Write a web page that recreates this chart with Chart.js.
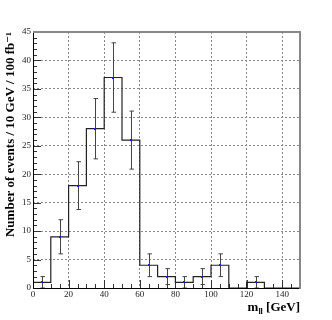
<!DOCTYPE html>
<html>
<head>
<meta charset="utf-8">
<script src="https://cdn.jsdelivr.net/npm/chart.js@4"></script>
<style>
  html, body { margin: 0; padding: 0; background: #fff; }
  #wrap { width: 332px; height: 320px; }
</style>
</head>
<body>
<div id="wrap"><canvas id="massChart" width="332" height="320"></canvas></div>
<script>
// bin edges (GeV) and contents per 10 GeV bin
const binEdges = [0, 10, 20, 30, 40, 50, 60, 70, 80, 90, 100, 110, 120, 130, 140, 150];
const binCounts = [1, 9, 18, 28, 37, 26, 4, 2, 1, 2, 4, 0, 1, 0, 0];
// error bars (bins with entries only)
const errCenters = [5, 15, 25, 35, 45, 55, 65, 75, 85, 95, 105, 125];
const errValues = [1, 9, 18, 28, 37, 26, 4, 2, 1, 2, 4, 1];
const errSizes = [1, 3, 4.2, 5.3, 6.1, 5.1, 2, 1.4, 1, 1.4, 2, 1];
const yTitle = "Number of events / 10 GeV / 100 fb⁻¹";

const serif = "'Liberation Serif', 'DejaVu Serif', serif";

// histogram outline: each bin gives its left and right edge at the same height
const stepPoints = [];
binCounts.forEach((n, i) => {
  stepPoints.push({ x: binEdges[i], y: n });
  stepPoints.push({ x: binEdges[i + 1], y: n });
});

const rootStyle = {
  id: "rootStyle",
  beforeDatasetsDraw(chart) {
    const { ctx, chartArea: a, scales: { x, y } } = chart;
    ctx.save();
    // inner ticks
    ctx.strokeStyle = "#333";
    ctx.lineWidth = 1;
    ctx.beginPath();
    for (let v = 0; v <= 45; v++) {
      const py = Math.round(y.getPixelForValue(v)) + 0.5;
      const len = v % 5 === 0 ? 8 : 4;
      ctx.moveTo(a.left, py);
      ctx.lineTo(a.left + len, py);
    }
    for (let v = 0; v <= 150; v += 5) {
      const px = Math.round(x.getPixelForValue(v)) + 0.5;
      const len = v % 20 === 0 ? 8 : 4;
      ctx.moveTo(px, a.bottom);
      ctx.lineTo(px, a.bottom - len);
    }
    ctx.stroke();
    ctx.restore();
  },
  afterDatasetsDraw(chart) {
    const { ctx, chartArea: a, scales: { x, y } } = chart;
    ctx.save();
    // error bars
    ctx.strokeStyle = "#444";
    ctx.lineWidth = 1;
    errCenters.forEach((c, i) => {
      const px = Math.round(x.getPixelForValue(c)) + 0.5;
      const top = y.getPixelForValue(errValues[i] + errSizes[i]);
      const bot = y.getPixelForValue(Math.max(0, errValues[i] - errSizes[i]));
      ctx.beginPath();
      ctx.moveTo(px, top); ctx.lineTo(px, bot);
      ctx.moveTo(px - 2, top); ctx.lineTo(px + 2.5, top);
      ctx.moveTo(px - 2, bot); ctx.lineTo(px + 2.5, bot);
      ctx.stroke();
    });
    // markers
    ctx.fillStyle = "#1a1aff";
    errCenters.forEach((c, i) => {
      const px = Math.round(x.getPixelForValue(c));
      const py = Math.round(y.getPixelForValue(errValues[i]));
      ctx.fillRect(px - 1, py - 1, 2, 2);
    });
    // frame
    ctx.lineWidth = 1;
    ctx.strokeStyle = "#000";
    ctx.beginPath();
    ctx.moveTo(a.left + 0.5, a.top);
    ctx.lineTo(a.left + 0.5, a.bottom + 0.5);
    ctx.lineTo(a.right, a.bottom + 0.5);
    ctx.stroke();
    ctx.lineWidth = 2;
    ctx.strokeStyle = "#888";
    ctx.beginPath();
    ctx.moveTo(a.left, a.top);
    ctx.lineTo(a.right, a.top);
    ctx.lineTo(a.right, a.bottom + 1);
    ctx.stroke();
    // x title with subscript
    ctx.fillStyle = "#000";
    ctx.textBaseline = "alphabetic";
    const base = 311;
    const f1 = "bold 13px " + serif, f2 = "bold 8px " + serif;
    ctx.font = f1; const wM = ctx.measureText("m").width;
    const wRest = ctx.measureText(" [GeV]").width;
    ctx.font = f2; const wSub = ctx.measureText("ll").width;
    let sx = a.right - (wM + wSub + wRest);
    ctx.font = f1; ctx.fillText("m", sx, base); sx += wM;
    ctx.font = f2; ctx.fillText("ll", sx, base + 3); sx += wSub;
    ctx.font = f1; ctx.fillText(" [GeV]", sx, base);
    ctx.restore();
  }
};

new Chart(document.getElementById("massChart").getContext("2d"), {
  type: "line",
  data: {
    datasets: [{
      data: stepPoints,
      borderColor: "#222",
      borderWidth: 1.2,
      pointRadius: 0,
      tension: 0,
      fill: false
    }]
  },
  options: {
    responsive: false,
    animation: false,
    layout: { padding: { top: 32, right: 32, bottom: 0, left: 0 } },
    plugins: { legend: { display: false }, tooltip: { enabled: false } },
    scales: {
      x: {
        type: "linear",
        min: 0,
        max: 150,
        ticks: { stepSize: 20, includeBounds: false, padding: 1, maxRotation: 0, color: "#222", font: { family: serif, size: 9 } },
        grid: { color: (c) => c.tick.value === 0 ? "rgba(0,0,0,0)" : "#888", drawTicks: false },
        border: { display: false, dash: [2, 2] },
        afterFit: (s) => { s.height = 32; }
      },
      y: {
        min: 0,
        max: 45,
        ticks: { stepSize: 5, includeBounds: false, padding: 2, color: "#222", font: { family: serif, size: 9 } },
        grid: { color: (c) => c.tick.value === 0 ? "rgba(0,0,0,0)" : "#888", drawTicks: false },
        border: { display: false, dash: [2, 2] },
        title: { display: true, text: yTitle, align: "end", color: "#000", padding: { top: 3, bottom: 0 }, font: { family: serif, size: 13, weight: "bold" } },
        afterFit: (s) => { s.width = 33; }
      }
    }
  },
  plugins: [rootStyle]
});
</script>
</body>
</html>
